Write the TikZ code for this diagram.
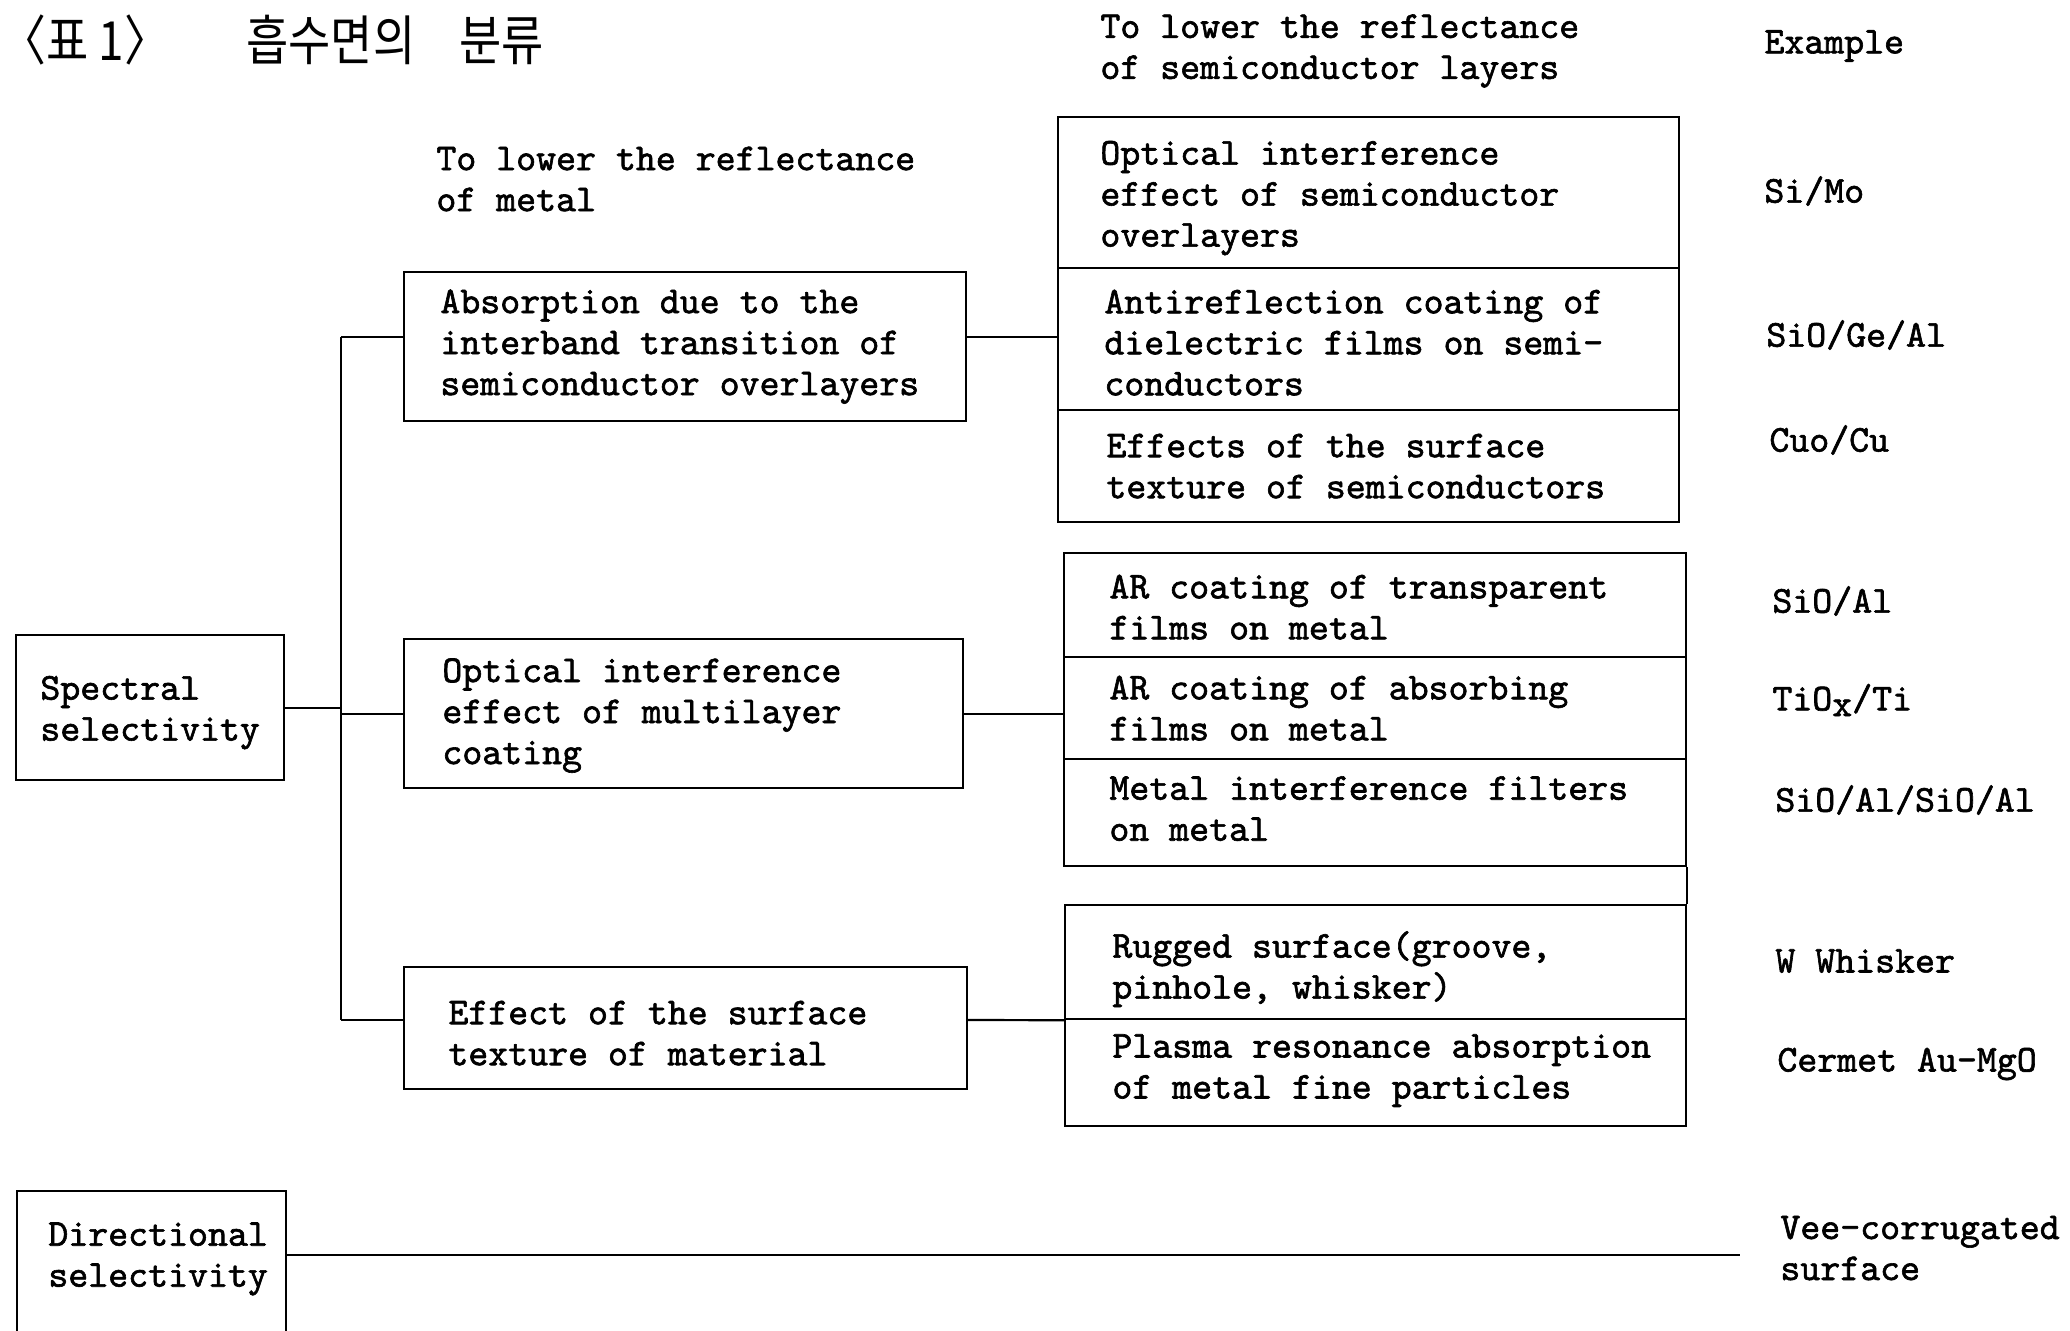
\documentclass[tikz,border=0pt]{standalone}
\usepackage{fontspec}
\setmonofont[FakeBold=1.6]{lmmono10-regular.otf}
\newfontfamily\kr[FakeStretch=0.85]{Noto Sans CJK KR}
\begin{document}
\begin{tikzpicture}[x=0.5pt,y=-0.5pt,
  bx/.style={draw,line width=1.1pt,inner sep=0pt,anchor=north west},
  tx/.style={font=\ttfamily\fontsize{19}{20.5}\selectfont,align=left,anchor=west,inner sep=0pt},
  ln/.style={line width=1.1pt}]
\useasboundingbox (0,0) rectangle (2070,1330);
% title
\node[font=\kr\fontsize{27}{29}\selectfont,anchor=west,inner sep=0pt] (t1) at (0,40) {〈표 1〉};
\node[font=\kr\fontsize{27}{29}\selectfont,anchor=west,inner sep=0pt] (t2) at (246,40) {흡수면의\hspace{22pt}분류};
% headers
\node[tx] (h1) at (1100,51) {To lower the reflectance\\of semiconductor layers};
\node[tx] (h2) at (1764,46) {Example};
\node[tx] (h3) at (436,179) {To lower the reflectance\\of metal};
% left boxes
\node[bx,minimum width=134pt,minimum height=72.5pt] (sp) at (15,634) {};
\node[tx] at ([xshift=12.5pt,yshift=-2.5pt]sp.west) {Spectral\\selectivity};
\node[bx,minimum width=281pt,minimum height=74.5pt] (ab) at (403,271) {};
\node[tx] at ([xshift=18.5pt]ab.west) {Absorption due to the\\interband transition of\\semiconductor overlayers};
\node[bx,minimum width=279.5pt,minimum height=74.5pt] (om) at (403,638) {};
\node[tx] at ([xshift=19.5pt,yshift=-1pt]om.west) {Optical interference\\effect of multilayer\\coating};
\node[bx,minimum width=281.5pt,minimum height=61pt] (ef) at (403,966) {};
\node[tx] at ([xshift=22.5pt,yshift=-2.5pt]ef.west) {Effect of the surface\\texture of material};
% group 1
\node[bx,minimum width=310.5pt,minimum height=75.5pt] (g1a) at (1057,116) {};
\node[tx] at ([xshift=21.5pt,yshift=-2.75pt]g1a.west) {Optical interference\\effect of semiconductor\\overlayers};
\node[bx,minimum width=310.5pt,minimum height=71pt] (g1b) at (1057,267) {};
\node[tx] at ([xshift=23.5pt,yshift=-1.75pt]g1b.west) {Antireflection coating of\\dielectric films on semi-\\conductors};
\node[bx,minimum width=310.5pt,minimum height=56pt] (g1c) at (1057,409) {};
\node[tx] at ([xshift=24.5pt]g1c.west) {Effects of the surface\\texture of semiconductors};
% group 2
\node[bx,minimum width=311pt,minimum height=52pt] (g2a) at (1063,552) {};
\node[tx] at ([xshift=23pt,yshift=-1pt]g2a.west) {AR coating of transparent\\films on metal};
\node[bx,minimum width=311pt,minimum height=51pt] (g2b) at (1063,656) {};
\node[tx] at ([xshift=23pt]g2b.west) {AR coating of absorbing\\films on metal};
\node[bx,minimum width=311pt,minimum height=53.5pt] (g2c) at (1063,758) {};
\node[tx] at ([xshift=23pt,yshift=2pt]g2c.west) {Metal interference filters\\on metal};
% group 3
\node[bx,minimum width=310.5pt,minimum height=57pt] (g3a) at (1064,904) {};
\node[tx] at ([xshift=24pt,yshift=-3.5pt]g3a.west) {Rugged surface(groove,\\pinhole, whisker)};
\node[bx,minimum width=310.5pt,minimum height=53.5pt] (g3b) at (1064,1018) {};
\node[tx] at ([xshift=24pt,yshift=1pt]g3b.west) {Plasma resonance absorption\\of metal fine particles};
\draw[ln] (g2c.south east) -- (g3a.north east);
% examples
\node[tx] (e1) at (1764,191) {Si/Mo};
\node[tx] (e2) at (1766,335) {SiO/Ge/Al};
\node[tx] (e3) at (1769,440) {Cuo/Cu};
\node[tx] (e4) at (1772,601) {SiO/Al};
\node[tx] (e5) at (1772,700) {TiO\raisebox{-0.35ex}{x}/Ti};
\node[tx] (e6) at (1775,800) {SiO/Al/SiO/Al};
\node[tx] (e7) at (1775,961) {W Whisker};
\node[tx] (e8) at (1777,1064) {Cermet Au-MgO};
\node[tx] (e9) at (1780,1248) {Vee-corrugated\\surface};
% directional
\node[inner sep=0pt,anchor=north west,minimum width=134pt,minimum height=69.5pt] (dr) at (17,1191) {};
\draw[ln] (dr.south west) -- (dr.north west) -- (dr.north east) -- (dr.south east);
\node[tx] at ([xshift=15.5pt,yshift=1pt]dr.west) {Directional\\selectivity};
\coordinate (vee) at (1740,1255);
\draw[ln] (dr.east |- vee) -- (vee);
% trunk and connectors
\coordinate (tt) at (341,337);
\coordinate (tb) at (341,1020);
\draw[ln] (tt) -- (tb);
\draw[ln] (sp.east) -- (sp.east -| tt);
\draw[ln] (tt) -- (ab.west |- tt);
\draw[ln] (om.west -| tt) -- (om.west);
\draw[ln] (tb) -- (ef.west |- tb);
\draw[ln] (ab.east |- tt) -- (g1b.west |- tt);
\draw[ln] (om.east) -- (g2b.west |- om.east);
\draw[ln] (ef.east |- tb) -- (g3a.south west);
\end{tikzpicture}
\end{document}
